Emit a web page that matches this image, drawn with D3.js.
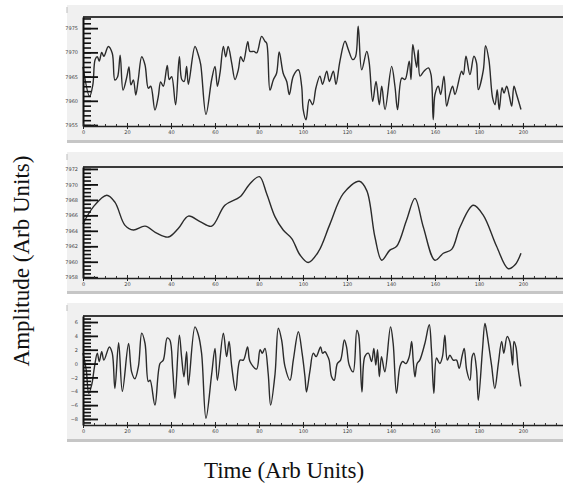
<!DOCTYPE html>
<html>
<head>
<meta charset="utf-8">
<script src="https://cdn.jsdelivr.net/npm/d3@7"></script>
<style>
body { margin: 0; background: #fff; }
.tick text { font-family: "DejaVu Sans", sans-serif; }
</style>
</head>
<body>
<svg width="563" height="486"></svg>
<script>
// panel 1 : raw amplitude
var t1 = [0,3,4.5,5.5,6.5,7.4,8.5,9.5,11.5,13.3,14.5,15.7,16.9,18.2,19.9,20.9,21.8,22.9,24,25.1,26.7,28.2,29.7,30.8,32.7,34.2,35.3,36.5,38.3,39.2,40.3,42.1,43.8,44.9,46,47.1,47.9,50.9,52.4,53.5,55.9,58.5,60,61.1,62.3,63.8,64.9,66,67.6,69.1,70.6,71.7,72.9,74.9,75.9,77.7,79,81.2,82.7,83.5,85,86.5,88,89.2,91,92.6,93.8,95.6,97.9,99.4,100.1,101.4,102.9,104.4,105.9,107.7,108.9,110.8,112,113.8,115,116.8,119.1,120.6,122.6,123.9,125.1,126.7,129,130.1,131.7,133.2,134.7,135.8,137.3,140.3,141.8,143,144.9,146.4,148.3,149.1,149.9,150.6,151.7,152.4,153.2,155,157,158.2,159.2,160,161.5,162.6,164.1,165.3,166.5,168,169.1,172.1,172.9,174.1,175.9,177.7,178.9,179.7,182,183,184.5,186.2,187.3,188.3,189.2,190.5,191.4,192.6,193.8,194.9,195.9,197.1,199.1];
var a1 = [7967,7960.9,7963.4,7968.5,7969.1,7968.2,7970,7969.2,7971.2,7969.8,7964.3,7964.9,7969.4,7962.2,7964.9,7967,7963.3,7964.3,7961.2,7964.3,7969.1,7967.4,7962.6,7963,7958.1,7960.8,7963.9,7963,7967.3,7964.4,7965,7959.2,7969.1,7964.4,7964,7967.1,7963.4,7971.2,7969.5,7967.5,7957.2,7964.4,7967.1,7963,7965.8,7971.2,7969.1,7971.2,7967.8,7964.4,7966.4,7969.1,7968.1,7972.2,7970.2,7970.2,7969.9,7973.3,7972.3,7971.9,7962.2,7964.3,7965.7,7970.1,7965.7,7964,7961.3,7965.1,7966.4,7963,7958.2,7956.1,7960.3,7959.2,7962.7,7965.1,7963.4,7966.1,7964,7966.1,7963.4,7968.2,7972.3,7970.6,7968.5,7969.1,7975.4,7966.4,7970.2,7967.9,7959.9,7964,7959.2,7963,7958.2,7967.1,7963,7958.2,7964.7,7964.4,7968.2,7964.4,7971.6,7969.9,7966.9,7970.5,7965.1,7966.1,7966.8,7965.4,7956.1,7961.3,7963,7961.3,7965.1,7958.9,7961,7963,7961.3,7966.1,7965.4,7969.2,7965.4,7969.2,7967.8,7962.3,7966.4,7971.4,7968.5,7960.6,7959.2,7962.3,7958.2,7962.7,7961.6,7963,7961,7958.9,7963,7961.3,7958.2];

// panel 2 : smoothed
var t2 = [0,4.7,10.8,14.5,19.1,22.9,28.2,33.5,38.8,43.3,47.9,53.2,58.5,64.5,71.4,75.9,80.2,83.5,87.3,91,94.9,98.6,102.4,107,112.3,118.3,125.6,129,132.7,135.8,139.5,142.6,147.1,150.9,154.7,160,163.8,167.6,171.4,177.4,182,188,193.3,196.4,199.1];
var a2 = [7964.9,7967.1,7968.6,7967.7,7964.7,7964.1,7964.6,7963.7,7963.2,7964.3,7965.9,7965.2,7964.6,7967.3,7968.4,7970.1,7971.0,7968.8,7965.8,7964.1,7963.0,7960.9,7959.9,7961.3,7964.9,7968.8,7970.4,7969.2,7963.2,7960.2,7961.5,7962.0,7965.4,7968.2,7964.5,7960.2,7961.1,7961.6,7964.5,7967.3,7966.0,7962.0,7959.1,7959.6,7961.1];

// panel 3 : residual
var t3 = [0,1.5,2.6,4,5.2,6.5,7.4,8.5,9.5,12,13.3,14.5,16.2,17.9,20.7,22.1,23.6,25.2,26.7,28.2,29.7,30.5,32.7,35,36.5,38.3,39.5,40.8,41.8,43.8,44.8,45.9,47.1,47.9,50.9,52.4,53.9,55.9,58.5,60,61.1,63.8,65.3,66.4,67.6,69.4,71.4,72.9,74.8,75.9,78.9,80.5,81.5,82.7,84.2,85.3,87.3,88.8,90.3,91.8,94.1,95.6,97.9,99.6,100.9,101.6,103.1,104.7,106,108,108.9,110,111,111.9,113,114.2,115.6,117.1,118.8,119.8,121,122.8,124.5,125.3,126.8,128.1,129.7,131.2,132.2,133.1,133.9,134.7,135.7,137.2,139.8,141,142.5,144.1,145.3,146.8,148.3,149.4,150.1,150.9,151.9,153.1,155.4,157.4,158.4,159.5,160.7,162.2,163.4,164.5,165.6,166.8,168.3,169.8,171,172.4,173.3,174.4,175.9,176.9,177.7,178.9,179.7,181.6,182.7,183.4,185.7,187.2,188.8,190.3,191.3,192.8,194,195.3,195.9,196.8,197.8,199];
var a3 = [1.5,-1,-4.3,-3,-0.5,1.5,0.3,1.7,0.5,2.4,1.5,-3.6,3.0,-4.0,2.9,-1.2,-2.2,-0.4,4.4,2.9,-2.6,-2.4,-6.0,0,0.5,3.7,3.4,-1,-5.0,4.1,1,-1.9,1.7,-3.1,5.3,4.2,1.5,-7.9,-1.5,2.2,-2.4,4.4,1.0,3.2,-0.4,-3.9,0.5,0.5,2.4,0.3,-0.8,2.0,1.5,2.2,-1.5,-6.0,-1.5,5.1,3.4,-0.4,-2.4,0.5,4.6,1.5,-1.9,-4.1,-1.2,1.5,1.0,2.4,1.5,1.7,1.2,0.5,-1.9,-2.4,0,0.5,3.4,2.4,-0.2,-1.2,4.8,4.2,-4.1,1.0,1.5,0.3,2.2,-0.2,2.0,-1.9,1.0,-1.2,5.3,2.9,-4.3,-0.4,0.3,0,1.0,3.2,0.5,-1.9,0,0.5,2.9,5.6,2.0,-4.3,0.8,0,1.0,4.1,0.5,1.2,0.5,0.5,-0.7,1.2,2.2,-0.9,-2.4,1.0,1.5,-0.9,-5.3,2.0,5.8,4.8,-0.2,-3.6,0,3.2,1.5,3.9,3.2,-0.2,3.2,2.4,-0.7,-3.3];

// tick labels
var xTicks = [0,20,40,60,80,100,120,140,160,180,200];
var yTicks1 = [7955,7960,7965,7970,7975];
var yTicks2 = [7958,7960,7962,7964,7966,7968,7970,7972];
var yTicks3 = [-8,-6,-4,-2,0,2,4,6];

var xLabel = "Time (Arb Units)";
var yLabel = "Amplitude (Arb Units)";

function main() {
    var svg = d3.select("svg");
    var left = 83, right = 563;

    var xScale = d3.scaleLinear().domain([0, 218.2]).range([left, right]);

    var panels = [
        {t: t1, a: a1, ticks: yTicks1, minorStep: 1, dom: [7954.8, 7977.3], bg: [5, 140], plot: [17, 126]},
        {t: t2, a: a2, ticks: yTicks2, minorStep: 0.5, dom: [7957.9, 7972.25], bg: [152, 291], plot: [167, 278]},
        {t: t3, a: a3, ticks: yTicks3, minorStep: 0.5, dom: [-8.87, 6.87], bg: [303, 439], plot: [316, 425]}
    ];

    panels.forEach(function(p) {
        // window-like grey background
        svg.append("rect")
           .attr("x", 67).attr("y", p.bg[0])
           .attr("width", 563 - 67).attr("height", p.bg[1] - p.bg[0])
           .attr("fill", "#f0f0f0");
        svg.append("rect")
           .attr("x", 67).attr("y", p.bg[1])
           .attr("width", 563 - 67).attr("height", 3)
           .attr("fill", "#c6c6c6");
        svg.append("line")
           .attr("x1", 67).attr("x2", 67)
           .attr("y1", p.bg[0] + 2).attr("y2", p.bg[0] + 8)
           .attr("stroke", "#bbb");

        var yScale = d3.scaleLinear().domain(p.dom).range([p.plot[1], p.plot[0]]);

        // top frame line
        svg.append("line")
           .attr("x1", left).attr("x2", right)
           .attr("y1", p.plot[0]).attr("y2", p.plot[0])
           .attr("stroke", "#3a3a3a").attr("stroke-width", 2);

        // the trace
        var line = d3.line()
            .x(function(d) { return xScale(d[0]); })
            .y(function(d) { return yScale(d[1]); })
            .curve(d3.curveCatmullRom.alpha(0.5));

        svg.append("path")
           .datum(d3.zip(p.t, p.a))
           .attr("fill", "none")
           .attr("stroke", "#2b2b2b")
           .attr("stroke-width", 1.4)
           .attr("d", line);

        // y axis: minor then major ticks pointing into the plot
        var lo = Math.ceil(p.dom[0] / p.minorStep) * p.minorStep;
        var minor = d3.range(lo, p.dom[1] + 1e-9, p.minorStep);

        var gMinor = svg.append("g")
            .attr("transform", "translate(" + left + ",0)")
            .call(d3.axisLeft(yScale).tickValues(minor).tickFormat("")
                    .tickSizeInner(-8).tickSizeOuter(0));
        gMinor.select(".domain").attr("stroke", "#111").attr("stroke-width", 2);
        gMinor.selectAll(".tick line").attr("stroke", "#111").attr("stroke-width", 1.6);

        var gMajor = svg.append("g")
            .attr("transform", "translate(" + left + ",0)")
            .call(d3.axisLeft(yScale).tickValues(p.ticks).tickFormat(d3.format("d"))
                    .tickSizeInner(-15).tickSizeOuter(0).tickPadding(5));
        gMajor.select(".domain").remove();
        gMajor.selectAll(".tick line").attr("stroke", "#111").attr("stroke-width", 1.8);
        gMajor.selectAll(".tick text").attr("font-size", "5px").attr("fill", "#444");

        // x axis
        var gxMinor = svg.append("g")
            .attr("transform", "translate(0," + p.plot[1] + ")")
            .call(d3.axisBottom(xScale).tickValues(d3.range(0, 216, 5)).tickFormat("")
                    .tickSizeInner(-2).tickSizeOuter(0));
        gxMinor.select(".domain").attr("stroke", "#222").attr("stroke-width", 1.4);
        gxMinor.selectAll(".tick line").attr("stroke", "#333");

        var gx = svg.append("g")
            .attr("transform", "translate(0," + p.plot[1] + ")")
            .call(d3.axisBottom(xScale).tickValues(xTicks).tickFormat(d3.format("d"))
                    .tickSizeInner(3).tickSizeOuter(0).tickPadding(1));
        gx.select(".domain").remove();
        gx.selectAll(".tick line").attr("y1", -3).attr("stroke", "#222");
        gx.selectAll(".tick text").attr("font-size", "5px").attr("fill", "#444");
    });

    // axis titles
    svg.append("text")
       .attr("x", 284).attr("y", 478)
       .attr("text-anchor", "middle")
       .attr("font-family", "Liberation Serif, Times New Roman, serif")
       .attr("font-size", "23px")
       .attr("fill", "#111")
       .text(xLabel);

    svg.append("text")
       .attr("transform", "translate(29,261) rotate(-90)")
       .attr("text-anchor", "middle")
       .attr("font-family", "Liberation Serif, Times New Roman, serif")
       .attr("font-size", "23px")
       .attr("fill", "#111")
       .text(yLabel);
}
main();
</script>
</body>
</html>
